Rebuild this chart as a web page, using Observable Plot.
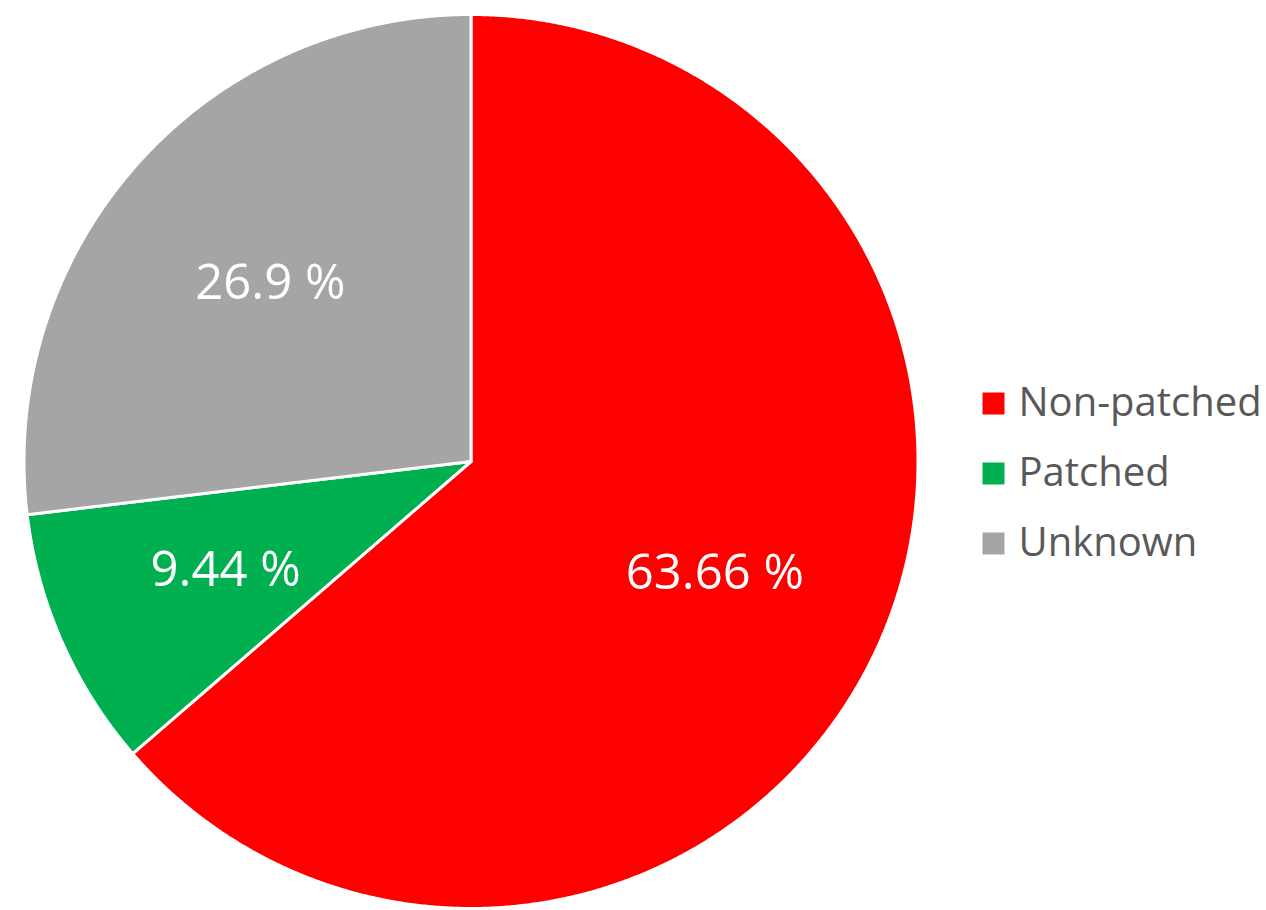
<!DOCTYPE html>
<html>
<head>
<meta charset="utf-8">
<script src="https://cdn.jsdelivr.net/npm/d3@7"></script>
<script src="https://cdn.jsdelivr.net/npm/@observablehq/plot@0.6"></script>
<style>
  html, body { margin: 0; padding: 0; background: #fff; }
  #chart { width: 1266px; height: 910px; }
</style>
</head>
<body>
<div id="chart"></div>
<script>
// ---- data ----
const categories = ["Non-patched", "Patched", "Unknown"];
const shares = [63.66, 9.44, 26.9];
const labels = ["63.66 %", "9.44 %", "26.9 %"];
const colors = ["#FF0000", "#00B050", "#A5A5A5"];

// ---- layout (pixels) ----
const W = 1266, H = 910;
const CX = 470.5, CY = 461, R = 447;

// pie angles (clockwise from 12 o'clock)
const arcs = d3.pie().sort(null).value(d => d)(shares);

// polygon points for each slice in unit-circle data coordinates (y up)
const slicePts = [];
arcs.forEach((a, i) => {
  const cat = categories[i];
  slicePts.push({cat, x: 0, y: 0});
  const n = Math.max(2, Math.ceil((a.endAngle - a.startAngle) / (Math.PI / 720)));
  for (let k = 0; k <= n; k++) {
    const t = a.startAngle + (a.endAngle - a.startAngle) * k / n;
    slicePts.push({cat, x: Math.sin(t), y: Math.cos(t)});
  }
  slicePts.push({cat, x: 0, y: 0});
});

// label anchors along each slice's mid-angle
const LR = 0.6;
const labelPts = arcs.map((a, i) => {
  const m = (a.startAngle + a.endAngle) / 2;
  return {cat: categories[i], text: labels[i], x: LR * Math.sin(m), y: LR * Math.cos(m)};
});

// legend rows (to the right of the pie)
const legendX = (993 - CX) / R;
const legendTop = (CY - 403) / R;
const legendStep = 70 / R;
const legendPts = categories.map((c, i) => ({cat: c, x: legendX, y: legendTop - i * legendStep}));

const chart = Plot.plot({
  width: W,
  height: H,
  margin: 0,
  style: {background: "#fff", fontFamily: "'Open Sans', 'Noto Sans', sans-serif"},
  x: {domain: [-CX / R, (W - CX) / R], range: [0, W], axis: null},
  y: {domain: [-(H - CY) / R, CY / R], range: [H, 0], axis: null},
  color: {domain: categories, range: colors},
  marks: [
    Plot.line(slicePts, {
      x: "x", y: "y", z: "cat",
      fill: "cat", stroke: "white", strokeWidth: 3,
      strokeLinejoin: "round", curve: "linear"
    }),
    Plot.text(labelPts, {
      x: "x", y: "y", text: "text",
      fill: "white", fontSize: 49, textAnchor: "middle", lineAnchor: "middle"
    }),
    Plot.dot(legendPts, {
      x: "x", y: "y", fill: "cat", symbol: "square", r: 12.4, stroke: "none"
    }),
    Plot.text(legendPts, {
      x: "x", y: "y", text: "cat", dx: 25,
      fill: "#595959", fontSize: 40, textAnchor: "start", lineAnchor: "middle"
    })
  ]
});
document.getElementById("chart").appendChild(chart);
</script>
</body>
</html>
